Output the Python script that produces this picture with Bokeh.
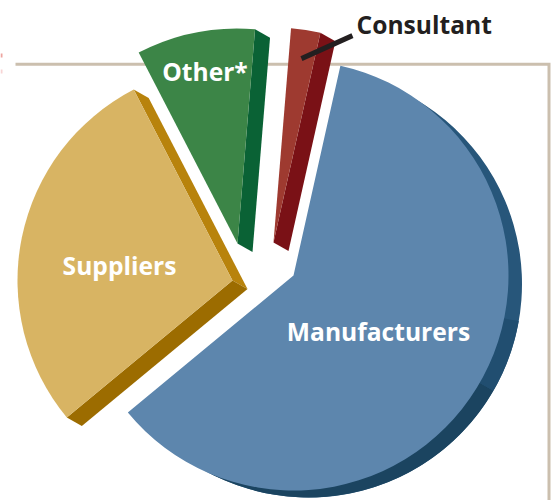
import math
from bokeh.plotting import figure
from bokeh.models import Range1d
from bokeh.core.properties import value
from bokeh.embed import file_html
from bokeh.resources import INLINE

# Shares of each slice, in percent, starting at the top and running counter-clockwise
categories = ["Consultant", "Other*", "Suppliers", "Manufacturers"]
shares = [2.2, 8.9, 28.4, 60.5]

face_colors = ["#9E3A30", "#3C8547", "#D8B463", "#5D86AD"]
wall_colors = ["#7A1116", "#0A6235", "#B8830C", "#27567A"]
lower_wall_color = "#9C6C00"
back_wall_steps = [(330, "#1B4460"), (350, "#214E70")]
frame_color = "#CBBFAE"

W, H = 551, 500
START = 77.4
R = 215
R_BACK = 213.5
DX, DY = 15, -8.5  # extrusion direction
apex = {"Consultant": (273, H - 242), "Other*": (237, H - 243),
        "Suppliers": (232, H - 280), "Manufacturers": (293, H - 275)}
label_pos = {"Other*": (204.5, H - 71), "Suppliers": (119, H - 265),
             "Manufacturers": (378, H - 331)}

p = figure(width=W, height=H, x_range=Range1d(0, W), y_range=Range1d(0, H),
           toolbar_location=None, output_backend="svg", min_border=0,
           styles={"position": "absolute", "left": "0", "top": "0"})
p.axis.visible = False
p.grid.visible = False
p.outline_line_color = None
p.background_fill_color = "white"

# frame, and the clipped fragment at the left edge of the page
p.line([15, 548.5, 548.5], [H - 63.7, H - 63.7, 0], line_color=frame_color, line_width=3,
       line_join="miter")
p.quad(left=[0, 0], right=[2, 2], top=[H - 53, H - 69], bottom=[H - 57, H - 73],
       fill_color=["#EDA5A0", "#F8D5D5"], line_color=None)

angles = []
a = START
for s in shares:
    b = a + s * 3.6
    angles.append((a, b))
    a = b

def pt(c, r, deg):
    return c[0] + r * math.cos(math.radians(deg)), c[1] + r * math.sin(math.radians(deg))

for name, (a0, a1), face, wall in zip(categories, angles, face_colors, wall_colors):
    c = apex[name]
    if name == "Manufacturers":
        p.wedge(c[0] + DX, c[1] + DY, radius=R_BACK, start_angle=a0, end_angle=a1,
                start_angle_units="deg", end_angle_units="deg",
                fill_color=wall, line_color=None)
        lo = a0
        for hi, col in back_wall_steps:
            p.wedge(c[0] + DX, c[1] + DY, radius=R_BACK, start_angle=lo, end_angle=hi,
                    start_angle_units="deg", end_angle_units="deg",
                    fill_color=col, line_color=None)
            lo = hi
    else:
        # wall along the first (right-hand) radial edge
        q = pt(c, R, a0)
        p.patch([c[0], q[0], q[0] + DX, c[0] + DX], [c[1], q[1], q[1] + DY, c[1] + DY],
                fill_color=wall, line_color=None)
    if name == "Suppliers":
        q = pt(c, R, a1)
        p.patch([c[0], q[0], q[0] + DX, c[0] + DX], [c[1], q[1], q[1] + DY, c[1] + DY],
                fill_color=lower_wall_color, line_color=None)
    p.wedge(c[0], c[1], radius=R, start_angle=a0, end_angle=a1,
            start_angle_units="deg", end_angle_units="deg",
            fill_color=face, line_color=None)

# leader line from the Consultant slice to its label
mid = sum(angles[0]) / 2
l0 = pt(apex["Consultant"], 186, mid)
p.line([l0[0], l0[0] + 51], [l0[1], l0[1] + 23], line_color="#231F20", line_width=5)

FONT = value("Open Sans")
p.text([356], [H - 23.5], text=["Consultant"], text_color="#231F20", text_font=FONT,
       text_font_style="bold", text_font_size="24.6px", text_baseline="middle", text_align="left")
for name, (x, y) in label_pos.items():
    p.text([x], [y], text=[name], text_color="white", text_font=FONT,
           text_font_style="bold", text_font_size="24.6px", text_baseline="middle", text_align="center")

open("out.html", "w").write(file_html(p, INLINE))
